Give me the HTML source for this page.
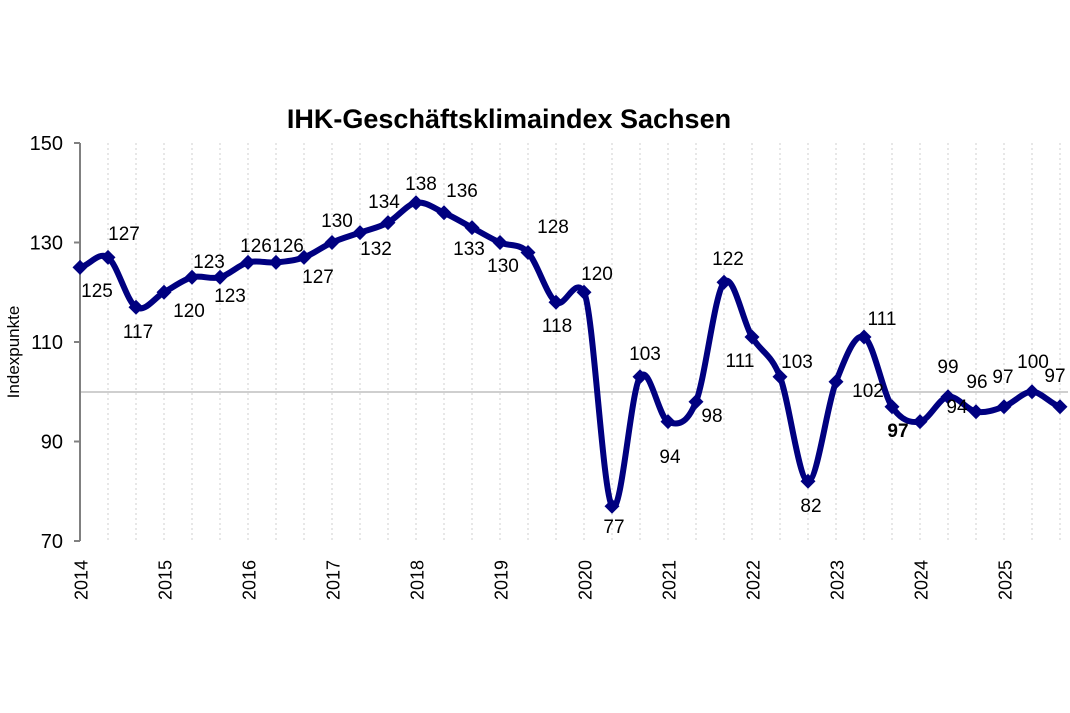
<!DOCTYPE html>
<html><head><meta charset="utf-8"><style>
html,body{margin:0;padding:0;background:#fff;}
svg{display:block;font-family:"Liberation Sans",Arial,sans-serif;}
</style></head><body>
<svg width="1070" height="713" viewBox="0 0 1070 713" xmlns="http://www.w3.org/2000/svg">
<defs>
<marker id="dm" markerUnits="userSpaceOnUse" markerWidth="18" markerHeight="18" refX="9" refY="9" orient="0">
<path d="M9 1.5 L16.5 9 L9 16.5 L1.5 9 Z" fill="#000080"/>
</marker>
</defs>
<text x="509" y="128" font-size="27" font-weight="bold" text-anchor="middle" fill="#000">IHK-Geschäftsklimaindex Sachsen</text>
<path stroke="#cfcfcf" stroke-width="1" stroke-dasharray="2,3" fill="none" d="M108 143V541M136 143V541M164 143V541M192 143V541M220 143V541M248 143V541M276 143V541M304 143V541M332 143V541M360 143V541M388 143V541M416 143V541M444 143V541M472 143V541M500 143V541M528 143V541M556 143V541M584 143V541M612 143V541M640 143V541M668 143V541M696 143V541M724 143V541M752 143V541M780 143V541M808 143V541M836 143V541M864 143V541M892 143V541M920 143V541M948 143V541M976 143V541M1004 143V541M1032 143V541M1060 143V541"/>
<line x1="80" y1="392" x2="1068" y2="392" stroke="#bfbfbf" stroke-width="1.5"/>
<line x1="80" y1="143" x2="80" y2="541" stroke="#808080" stroke-width="2"/>
<path stroke="#808080" stroke-width="2" d="M74 143H80M74 242.5H80M74 342H80M74 441.5H80M74 541H80"/>
<g font-size="20" text-anchor="end" fill="#000">
<text x="63" y="150">150</text><text x="63" y="249.5">130</text><text x="63" y="349">110</text><text x="63" y="448.5">90</text><text x="63" y="548">70</text>
</g>
<text transform="translate(19,352) rotate(-90)" font-size="17" text-anchor="middle">Indexpunkte</text>
<g font-size="18" fill="#000">
<text transform="translate(87.5,600) rotate(-90)">2014</text>
<text transform="translate(171.5,600) rotate(-90)">2015</text>
<text transform="translate(255.5,600) rotate(-90)">2016</text>
<text transform="translate(339.5,600) rotate(-90)">2017</text>
<text transform="translate(423.5,600) rotate(-90)">2018</text>
<text transform="translate(507.5,600) rotate(-90)">2019</text>
<text transform="translate(591.5,600) rotate(-90)">2020</text>
<text transform="translate(675.5,600) rotate(-90)">2021</text>
<text transform="translate(759.5,600) rotate(-90)">2022</text>
<text transform="translate(843.5,600) rotate(-90)">2023</text>
<text transform="translate(927.5,600) rotate(-90)">2024</text>
<text transform="translate(1011.5,600) rotate(-90)">2025</text>
</g>
<path fill="none" stroke="#000080" stroke-width="6" stroke-linejoin="round" stroke-linecap="round" marker-start="url(#dm)" marker-mid="url(#dm)" marker-end="url(#dm)"
d="M80,267.4 C89.3,265.7 98.7,250.8 108,257.4 C117.3,264.0 126.7,301.4 136,307.2 C145.3,313.0 154.7,297.3 164,292.3 C173.3,287.3 182.7,279.8 192,277.3 C201.3,274.8 210.7,279.8 220,277.3 C229.3,274.8 238.7,264.9 248,262.4 C257.3,259.9 266.7,263.2 276,262.4 C285.3,261.6 294.7,260.7 304,257.4 C313.3,254.1 322.7,246.6 332,242.5 C341.3,238.4 350.7,235.9 360,232.6 C369.3,229.3 378.7,227.6 388,222.6 C397.3,217.6 406.7,204.4 416,202.7 C425.3,201.1 434.7,208.6 444,212.7 C453.3,216.9 462.7,222.6 472,227.6 C481.3,232.6 490.7,238.4 500,242.5 C509.3,246.7 518.7,242.6 528,252.5 C537.3,262.5 546.7,295.6 556,302.2 C565.3,308.8 574.7,275.3 584,292.3 C593.3,309.3 602.7,492.1 612,506.2 C621.3,520.3 630.7,390.9 640,376.8 C649.3,362.7 658.7,417.5 668,421.6 C677.3,425.8 686.7,424.9 696,401.7 C705.3,378.5 714.7,293.1 724,282.3 C733.3,271.5 742.7,321.3 752,337.0 C761.3,352.8 770.7,352.8 780,376.8 C789.3,400.9 798.7,480.5 808,481.3 C817.3,482.1 826.7,405.9 836,381.8 C845.3,357.8 854.7,332.9 864,337.0 C873.3,341.2 882.7,392.6 892,406.7 C901.3,420.8 910.7,423.3 920,421.6 C929.3,419.9 938.7,398.4 948,396.7 C957.3,395.1 966.7,410.0 976,411.7 C985.3,413.4 994.7,410.0 1004,406.7 C1013.3,403.4 1022.7,391.8 1032,391.8 C1041.3,391.8 1050.7,404.2 1060,406.7"/>
<g font-size="19" fill="#000" text-anchor="middle">
<text x="97" y="297">125</text><text x="124" y="240">127</text><text x="138" y="338">117</text><text x="189" y="317">120</text><text x="209" y="268">123</text><text x="230" y="302">123</text><text x="256" y="252">126</text><text x="288" y="252">126</text><text x="318" y="283">127</text><text x="337" y="227">130</text><text x="376" y="255">132</text><text x="384" y="208">134</text><text x="421" y="190">138</text><text x="462" y="197">136</text><text x="469" y="255">133</text><text x="503" y="272">130</text><text x="553" y="233">128</text><text x="557" y="332">118</text><text x="597" y="280">120</text><text x="614" y="533">77</text><text x="645" y="360">103</text><text x="670" y="463">94</text><text x="712" y="422">98</text><text x="728" y="265">122</text><text x="740" y="367">111</text><text x="797" y="368">103</text><text x="811" y="512">82</text><text x="868" y="397">102</text><text x="882" y="325">111</text><text x="898" y="437" font-weight="bold">97</text><text x="957" y="413">94</text><text x="948" y="373">99</text><text x="977" y="388">96</text><text x="1003" y="383">97</text><text x="1033" y="368">100</text><text x="1055" y="382">97</text>
</g>
</svg>
</body></html>
